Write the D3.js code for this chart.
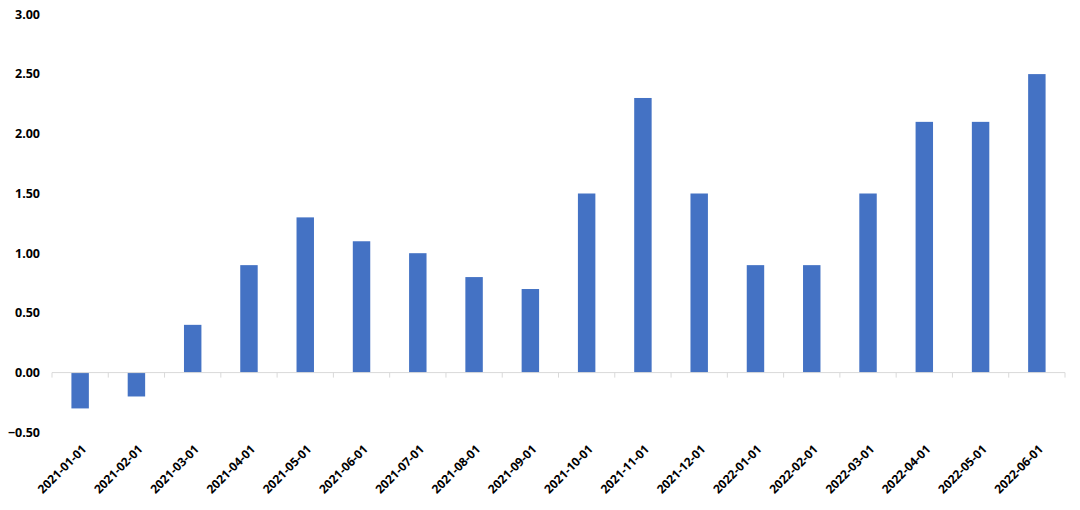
<!DOCTYPE html>
<html><head><meta charset="utf-8">
<script src="https://cdn.jsdelivr.net/npm/d3@7"></script>
<style>body{margin:0;background:#fff}</style>
</head><body>
<svg id="chart" width="1080" height="510"></svg>
<script>
const categories = ["2021-01-01","2021-02-01","2021-03-01","2021-04-01","2021-05-01","2021-06-01","2021-07-01","2021-08-01","2021-09-01","2021-10-01","2021-11-01","2021-12-01","2022-01-01","2022-02-01","2022-03-01","2022-04-01","2022-05-01","2022-06-01"];
const values = [-0.3,-0.2,0.4,0.9,1.3,1.1,1.0,0.8,0.7,1.5,2.3,1.5,0.9,0.9,1.5,2.1,2.1,2.5];
const yTicks = [-0.5,0,0.5,1,1.5,2,2.5,3];

const svg = d3.select("#chart");
const font = "'Noto Sans', 'Open Sans', sans-serif";
const x = d3.scaleBand().domain(categories).range([52,1065]).paddingInner(0.69).paddingOuter(0.345);
const xb = d3.scaleBand().domain(categories).range([52,1065]);
const y = d3.scaleLinear().domain([-0.5,3]).range([432.3,14.4]);

// y labels
svg.append("g").selectAll("text").data(yTicks).join("text")
  .attr("x",40).attr("y",d=>y(d)).attr("dy","0.35em")
  .attr("text-anchor","end").attr("font-family",font).attr("font-weight","bold")
  .attr("font-size",12.5).attr("fill","#000")
  .text(d=>d3.format(".2f")(d));

// bars
svg.append("g").selectAll("rect").data(values).join("rect")
  .attr("x",(d,i)=>x(categories[i])).attr("width",x.bandwidth())
  .attr("y",d=>y(Math.max(0,d))).attr("height",d=>Math.abs(y(d)-y(0)))
  .attr("fill","#4472C4");

// zero axis line and ticks
const ax = svg.append("g");
ax.append("line").attr("x1",52).attr("x2",1065).attr("y1",y(0)).attr("y2",y(0))
  .attr("stroke","#d9d9d9").attr("stroke-width",1);
ax.selectAll("line.t").data(categories.concat(["end"])).join("line").attr("class","t")
  .attr("x1",(d,i)=>52+i*xb.bandwidth()).attr("x2",(d,i)=>52+i*xb.bandwidth())
  .attr("y1",y(0)).attr("y2",y(0)+5).attr("stroke","#d9d9d9");

// x labels
svg.append("g").selectAll("text").data(categories).join("text")
  .attr("transform",d=>`translate(${xb(d)+xb.bandwidth()/2+4},${447}) rotate(-45)`)
  .attr("text-anchor","end").attr("dy","0.35em")
  .attr("font-family",font).attr("font-weight","bold").attr("font-size",12)
  .attr("fill","#000").text(d=>d);
</script>
</body></html>
